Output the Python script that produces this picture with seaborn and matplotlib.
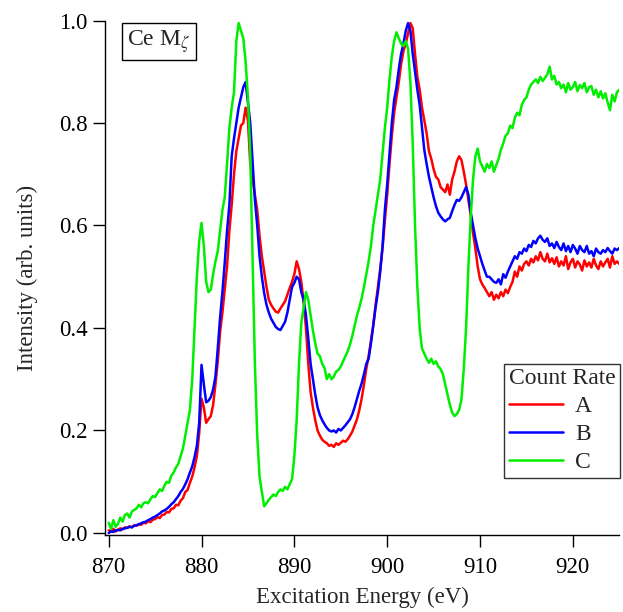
import numpy as np
import pandas as pd
import matplotlib
matplotlib.use("Agg")
import matplotlib.pyplot as plt
import seaborn as sns

# energy grid (eV), 0.25 eV steps from 870 to 925
energy = np.arange(870.0, 925.01, 0.25)

# Count rate A (red)
rate_a = [
    0.005, 0.004, 0.008, 0.003,
    0.006, 0.009, 0.007, 0.011,
    0.010, 0.013, 0.011, 0.015,
    0.014, 0.017, 0.016, 0.020,
    0.019, 0.023, 0.021, 0.026,
    0.027, 0.031, 0.029, 0.035,
    0.036, 0.041, 0.040, 0.047,
    0.048, 0.055, 0.054, 0.063,
    0.068, 0.080, 0.084, 0.098,
    0.110, 0.128, 0.150, 0.195,
    0.262, 0.245, 0.215, 0.222,
    0.228, 0.250, 0.290, 0.335,
    0.392, 0.430, 0.475, 0.520,
    0.590, 0.640, 0.700, 0.745,
    0.770, 0.795, 0.800, 0.830,
    0.805, 0.720, 0.690, 0.660,
    0.630, 0.580, 0.540, 0.510,
    0.480, 0.455, 0.445, 0.438,
    0.432, 0.430, 0.438, 0.445,
    0.452, 0.465, 0.478, 0.490,
    0.505, 0.530, 0.515, 0.490,
    0.450, 0.400, 0.330, 0.275,
    0.245, 0.220, 0.200, 0.190,
    0.182, 0.178, 0.175, 0.170,
    0.172, 0.168, 0.175, 0.172,
    0.176, 0.180, 0.178, 0.183,
    0.190, 0.198, 0.210, 0.222,
    0.240, 0.262, 0.290, 0.320,
    0.345, 0.375, 0.405, 0.445,
    0.480, 0.515, 0.555, 0.610,
    0.660, 0.720, 0.775, 0.820,
    0.850, 0.880, 0.915, 0.940,
    0.955, 0.975, 0.995, 0.985,
    0.935, 0.890, 0.865, 0.830,
    0.805, 0.780, 0.745, 0.730,
    0.710, 0.695, 0.690, 0.675,
    0.670, 0.665, 0.680, 0.660,
    0.690, 0.705, 0.725, 0.735,
    0.728, 0.705, 0.680, 0.650,
    0.620, 0.585, 0.555, 0.520,
    0.495, 0.485, 0.478, 0.470,
    0.462, 0.470, 0.455, 0.465,
    0.458, 0.470, 0.462, 0.475,
    0.468, 0.480, 0.490, 0.510,
    0.500, 0.520, 0.512, 0.525,
    0.530, 0.522, 0.535, 0.528,
    0.540, 0.532, 0.548, 0.535,
    0.530, 0.545, 0.528, 0.536,
    0.525, 0.538, 0.520, 0.530,
    0.522, 0.540, 0.515, 0.528,
    0.535, 0.518, 0.530, 0.524,
    0.512, 0.532, 0.520, 0.528,
    0.518, 0.535, 0.522, 0.515,
    0.530, 0.520, 0.528, 0.535,
    0.518, 0.540, 0.525, 0.530,
    0.525,
]

# Count rate B (blue)
rate_b = [
    0.000, 0.003, 0.002, 0.005,
    0.006, 0.005, 0.008, 0.009,
    0.010, 0.012, 0.011, 0.014,
    0.015, 0.017, 0.019, 0.021,
    0.022, 0.025, 0.027, 0.030,
    0.032, 0.035, 0.038, 0.042,
    0.044, 0.047, 0.051, 0.056,
    0.060, 0.066, 0.072, 0.080,
    0.086, 0.095, 0.105, 0.118,
    0.130, 0.148, 0.170, 0.215,
    0.328, 0.290, 0.255, 0.258,
    0.265, 0.280, 0.305, 0.360,
    0.420, 0.470, 0.527, 0.590,
    0.640, 0.735, 0.770, 0.800,
    0.830, 0.850, 0.870, 0.880,
    0.840, 0.800, 0.725, 0.650,
    0.600, 0.540, 0.500, 0.468,
    0.445, 0.430, 0.418, 0.410,
    0.402, 0.398, 0.396, 0.404,
    0.412, 0.430, 0.455, 0.480,
    0.488, 0.500, 0.495, 0.470,
    0.455, 0.425, 0.380, 0.330,
    0.300, 0.270, 0.245, 0.230,
    0.220, 0.212, 0.205, 0.200,
    0.198, 0.200, 0.196, 0.203,
    0.200, 0.205, 0.210, 0.216,
    0.222, 0.232, 0.246, 0.262,
    0.278, 0.292, 0.310, 0.330,
    0.340, 0.370, 0.405, 0.440,
    0.470, 0.510, 0.560, 0.630,
    0.680, 0.740, 0.800, 0.845,
    0.870, 0.905, 0.935, 0.955,
    0.980, 0.995, 0.980, 0.935,
    0.900, 0.865, 0.835, 0.790,
    0.747, 0.720, 0.695, 0.675,
    0.655, 0.638, 0.625, 0.618,
    0.612, 0.608, 0.612, 0.615,
    0.628, 0.640, 0.650, 0.648,
    0.655, 0.665, 0.675, 0.660,
    0.625, 0.600, 0.575, 0.555,
    0.540, 0.525, 0.512, 0.500,
    0.500, 0.495, 0.490, 0.488,
    0.495, 0.485, 0.505, 0.498,
    0.510, 0.520, 0.530, 0.540,
    0.535, 0.548, 0.545, 0.555,
    0.550, 0.562, 0.558, 0.570,
    0.565, 0.575, 0.580, 0.572,
    0.568, 0.575, 0.560, 0.565,
    0.556, 0.568, 0.558, 0.552,
    0.565, 0.550, 0.560, 0.548,
    0.562, 0.555, 0.545, 0.560,
    0.552, 0.548, 0.560, 0.545,
    0.550, 0.540, 0.555, 0.548,
    0.545, 0.552, 0.548, 0.556,
    0.550, 0.545, 0.555, 0.552,
    0.556,
]

# Count rate C (green)
rate_c = [
    0.020, 0.008, 0.025, 0.012,
    0.018, 0.030, 0.022, 0.035,
    0.038, 0.030, 0.042, 0.045,
    0.048, 0.055, 0.050, 0.058,
    0.060, 0.058, 0.066, 0.072,
    0.070, 0.078, 0.085, 0.082,
    0.092, 0.100, 0.098, 0.112,
    0.118, 0.128, 0.135, 0.150,
    0.165, 0.190, 0.215, 0.240,
    0.300, 0.400, 0.500, 0.570,
    0.605, 0.560, 0.490, 0.470,
    0.475, 0.505, 0.530, 0.550,
    0.590, 0.630, 0.655, 0.720,
    0.790, 0.830, 0.860, 0.960,
    0.995, 0.980, 0.965, 0.920,
    0.850, 0.740, 0.530, 0.330,
    0.190, 0.110, 0.080, 0.052,
    0.058, 0.065, 0.070, 0.075,
    0.072, 0.080, 0.085, 0.082,
    0.090, 0.085, 0.095, 0.105,
    0.150, 0.220, 0.330, 0.410,
    0.440, 0.470, 0.455, 0.425,
    0.395, 0.370, 0.350, 0.345,
    0.330, 0.322, 0.300, 0.310,
    0.300, 0.305, 0.315, 0.318,
    0.325, 0.335, 0.345, 0.355,
    0.368, 0.385, 0.405, 0.425,
    0.440, 0.458, 0.480, 0.505,
    0.530, 0.560, 0.600, 0.630,
    0.660, 0.690, 0.740, 0.790,
    0.830, 0.885, 0.930, 0.960,
    0.977, 0.965, 0.955, 0.950,
    0.960, 0.945, 0.880, 0.760,
    0.600, 0.480, 0.400, 0.360,
    0.350, 0.340, 0.332, 0.340,
    0.330, 0.335, 0.325, 0.320,
    0.310, 0.290, 0.270, 0.250,
    0.235, 0.228, 0.232, 0.240,
    0.260, 0.320, 0.400, 0.520,
    0.617, 0.690, 0.735, 0.750,
    0.725, 0.715, 0.705, 0.720,
    0.712, 0.725, 0.705, 0.718,
    0.730, 0.748, 0.760, 0.775,
    0.780, 0.795, 0.790, 0.810,
    0.820, 0.815, 0.835, 0.845,
    0.850, 0.865, 0.875, 0.880,
    0.885, 0.878, 0.890, 0.882,
    0.888, 0.895, 0.910, 0.885,
    0.892, 0.875, 0.880, 0.868,
    0.875, 0.860, 0.878, 0.865,
    0.870, 0.880, 0.862, 0.874,
    0.868, 0.878, 0.860, 0.870,
    0.872, 0.855, 0.865, 0.850,
    0.862, 0.848, 0.858, 0.840,
    0.825, 0.855, 0.842, 0.860,
    0.865,
]

series_names = ["A", "B", "C"]
series_colors = ["#ff0000", "#0000ff", "#00ee00"]

df = pd.concat([
    pd.DataFrame({"Energy": energy, "Intensity": vals, "Count Rate": name})
    for name, vals in zip(series_names, [rate_a, rate_b, rate_c])
])

sns.set_style("ticks")
plt.rcParams["font.family"] = ["Liberation Serif", "DejaVu Serif"]
plt.rcParams["mathtext.fontset"] = "stix"

fig = plt.figure(figsize=(6.23, 6.12), dpi=100)
ax = fig.add_axes([0.1685, 0.1258, 0.8255, 0.8407])

sns.lineplot(data=df, x="Energy", y="Intensity", hue="Count Rate",
             palette=dict(zip(series_names, series_colors)),
             estimator=None, sort=False, linewidth=1.8, ax=ax)

ax.set_xlim(869.6, 925)
ax.set_ylim(-0.004, 1.0)
ax.set_xticks([870, 880, 890, 900, 910, 920])
ax.set_yticks([0.0, 0.2, 0.4, 0.6, 0.8, 1.0])
ax.set_yticklabels(["0.0", "0.2", "0.4", "0.6", "0.8", "1.0"])
ax.tick_params(direction="out", length=8.5, width=1, colors="black", labelsize=16.5)
ax.tick_params(axis="x", pad=7)
ax.tick_params(axis="y", pad=4)
sns.despine(ax=ax)
for s in ["left", "bottom"]:
    ax.spines[s].set_linewidth(1.0)
    ax.spines[s].set_color("black")

ax.set_xlabel("Excitation Energy (eV)", fontsize=16.5, labelpad=7)
ax.set_ylabel("Intensity (arb. units)", fontsize=16.5, labelpad=15)

ax.text(0.043, 0.985, r"Ce M$_\zeta$", transform=ax.transAxes, fontsize=17,
        va="top", ha="left",
        bbox=dict(boxstyle="square,pad=0.22", facecolor="white", edgecolor="black", linewidth=1))

leg = ax.legend(title="Count Rate", loc="upper right", bbox_to_anchor=(1.002, 0.333),
                fontsize=17, title_fontsize=17, frameon=True, fancybox=False,
                edgecolor="black", handlelength=2.3, borderpad=0.2,
                labelspacing=0.27, handletextpad=0.5, borderaxespad=0)
leg.get_frame().set_linewidth(1.0)
leg._legend_box.align = "left"

fig.savefig("out.png", dpi=100)
